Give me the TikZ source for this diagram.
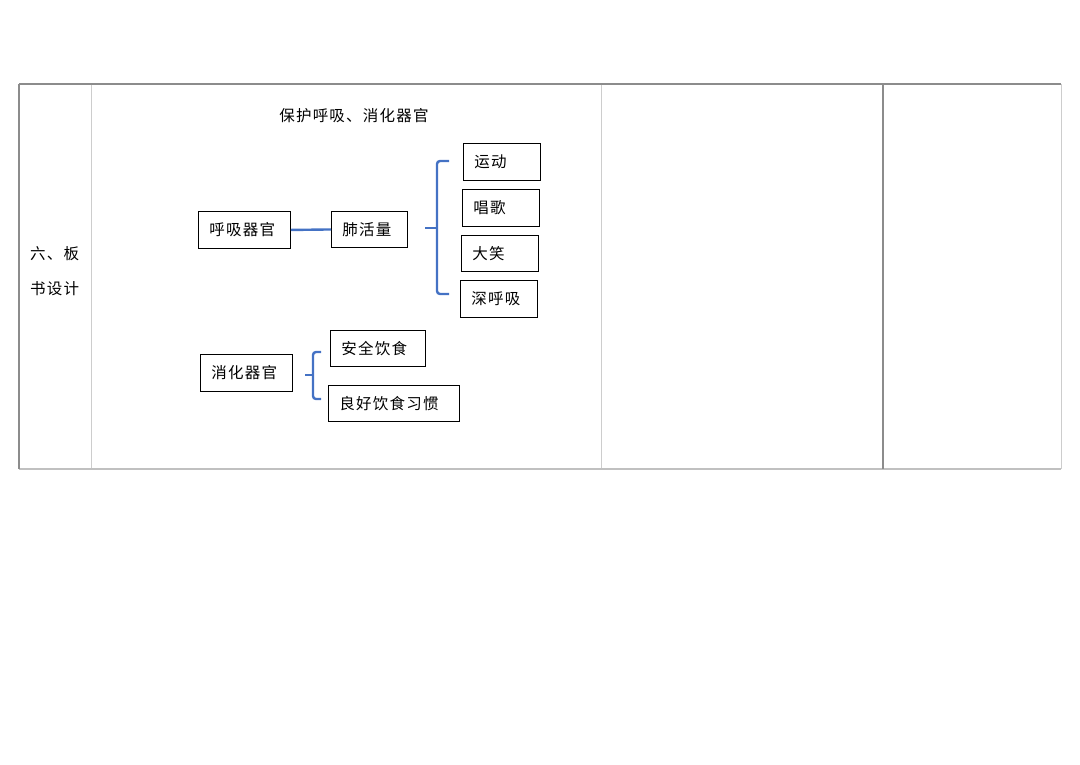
\documentclass[tikz,border=0pt]{standalone}
\usepackage{fontspec}
\newfontfamily\cjk[LetterSpace=8]{Noto Sans CJK SC}
\definecolor{bracecol}{RGB}{68,114,196}
\definecolor{darkline}{RGB}{140,140,140}
\definecolor{lightline}{RGB}{205,205,205}
\tikzset{
  box/.style={draw=black, line width=0.9pt, anchor=north west, inner xsep=11pt, inner ysep=0pt, align=left, font=\cjk\fontsize{15.5}{17}\selectfont},
  plain/.style={font=\cjk\fontsize{15.5}{17}\selectfont, inner sep=0pt},
  brace/.style={draw=bracecol, line width=2.4pt, rounded corners=3pt},
  link/.style={draw=bracecol, line width=2.4pt}
}
\begin{document}
\begin{tikzpicture}[x=1pt,y=-1pt]
\useasboundingbox (0,0) rectangle (1080,764);
% table
\draw[lightline, line width=1pt] (91,84) -- (91,469);
\draw[lightline, line width=1pt] (601,84) -- (601,469);
\draw[lightline, line width=1pt] (1061,84) -- (1061,469);
\draw[lightline!80!darkline, line width=1.2pt] (19,469) -- (1061,469);
\draw[darkline, line width=1.2pt] (883,84) -- (883,469);
\draw[darkline, line width=1.2pt] (19,84) -- (19,469);
\draw[darkline, line width=1.6pt] (19,84) -- (1061,84);
% left label
\node[plain, anchor=west] (lab1) at (30,254) {六、板};
\node[plain, anchor=west] (lab2) at (30,289) {书设计};
% title
\node[plain] (title) at (354,116) {保护呼吸、消化器官};
% boxes
\node[box, text width=92pt-22pt, minimum height=37pt] (hx) at (198,211) {呼吸器官};
\node[box, text width=76pt-22pt, minimum height=36pt] (fh) at (331,211) {肺活量};
\node[box, text width=77pt-22pt, minimum height=37pt] (yd) at (463,143) {运动};
\node[box, text width=77pt-22pt, minimum height=37pt] (cg) at (462,189) {唱歌};
\node[box, text width=77pt-22pt, minimum height=36pt] (dx) at (461,235) {大笑};
\node[box, text width=77pt-22pt, minimum height=37pt] (shx) at (460,280) {深呼吸};
\node[box, text width=92pt-22pt, minimum height=37pt] (xh) at (200,354) {消化器官};
\node[box, text width=95pt-22pt, minimum height=36pt] (aq) at (330,330) {安全饮食};
\node[box, text width=131pt-22pt, minimum height=36pt] (lh) at (328,385) {良好饮食习惯};
% connector
\draw[link] (hx.east) -- (fh.west);
% brace 1
\coordinate (b1t) at (449,161);
\coordinate (b1m) at (425,228);
\coordinate (b1b) at (449,294);
\draw[brace] (b1t) -- (437,161) -- (437,294) -- (b1b);
\draw[link] (b1m) -- (437,228);
% brace 2
\coordinate (b2t) at (321,352);
\coordinate (b2m) at (305,375);
\coordinate (b2b) at (321,399);
\draw[brace] (b2t) -- (313,352) -- (313,399) -- (b2b);
\draw[link] (b2m) -- (313,375);
\end{tikzpicture}
\end{document}
